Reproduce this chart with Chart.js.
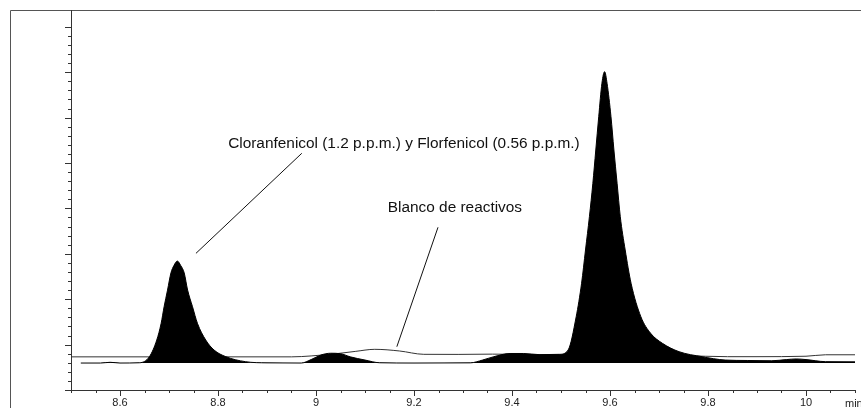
<!DOCTYPE html>
<html>
<head>
<meta charset="utf-8">
<script src="https://cdn.jsdelivr.net/npm/chart.js@4.4.1/dist/chart.umd.min.js"></script>
<style>
  html, body { margin: 0; padding: 0; background: #fff; }
  canvas { display: block; }
</style>
</head>
<body>
<canvas id="grafico" width="861" height="408"></canvas>
<script>
// muestra (cromatograma relleno en negro)
const tiemposMuestra = [8.52, 8.56, 8.58, 8.60, 8.64, 8.66, 8.675, 8.684, 8.69, 8.697, 8.704, 8.71, 8.717, 8.724, 8.731, 8.738, 8.748, 8.758, 8.775, 8.792, 8.816, 8.856, 8.90,
  8.97, 8.99, 9.01, 9.03, 9.05, 9.07, 9.10, 9.13, 9.20, 9.315, 9.34, 9.363, 9.396, 9.424, 9.457, 9.497, 9.5146, 9.531, 9.542, 9.550, 9.558, 9.565, 9.571, 9.577, 9.5835,
  9.589, 9.594, 9.602, 9.608, 9.6145, 9.621, 9.631, 9.643, 9.663, 9.683, 9.707, 9.741, 9.788, 9.835, 9.88, 9.93, 9.96, 9.98, 10.0, 10.04, 10.1];
const senalMuestra = [2.97, 2.97, 3.05, 2.97, 3.0, 3.67, 5.5, 7.35, 9.17, 11.0, 12.9, 13.7, 14.2, 13.7, 12.9, 11.0, 9.17, 7.35, 5.5, 4.4, 3.67, 3.12, 2.99,
  2.97, 3.35, 3.85, 4.05, 4.0, 3.65, 3.3, 3.0, 2.97, 2.99, 3.3, 3.67, 4.02, 4.02, 3.89, 3.93, 4.41, 8.07, 11.75, 15.42, 19.09, 22.76, 26.43, 30.1, 33.78,
  35.06, 33.78, 30.1, 26.43, 22.76, 19.09, 15.42, 11.75, 8.07, 6.24, 5.14, 4.22, 3.67, 3.3, 3.25, 3.22, 3.35, 3.42, 3.35, 3.12, 3.1];
const lineaBaseMuestra = 2.97;

// blanco de reactivos (solo linea)
const tiemposBlanco = [8.5, 8.95, 8.99, 9.03, 9.08, 9.12, 9.17, 9.22, 9.29, 9.36, 9.45, 9.55, 9.75, 9.84, 9.9, 10.0, 10.04, 10.1];
const senalBlanco = [3.65, 3.65, 3.75, 3.93, 4.25, 4.48, 4.3, 3.93, 3.92, 3.95, 3.9, 3.85, 3.78, 3.67, 3.67, 3.72, 3.88, 3.88];

// etiquetas del eje x
const valoresEjeX = [8.6, 8.8, 9, 9.2, 9.4, 9.6, 9.8, 10];
const etiquetasEjeX = ['8.6', '8.8', '9', '9.2', '9.4', '9.6', '9.8', '10'];

// textos y lineas de las anotaciones (en unidades de los ejes)
const textosNota = ['Cloranfenicol (1.2 p.p.m.) y Florfenicol (0.56 p.p.m.)', 'Blanco de reactivos'];
const textoNotaX = [8.8207, 9.1464];
const textoNotaY = [26.62, 19.64];
const lineaNotaDesde = [[8.755, 15.05], [9.249, 17.92]];
const lineaNotaHasta = [[8.971, 26.07], [9.165, 4.77]];

const fuente = "'Liberation Sans', Arial, sans-serif";

const puntos = (t, s) => t.map((x, i) => ({ x: x, y: s[i] }));

const dibujos = {
  id: 'dibujos',
  beforeDraw(chart) {
    const ctx = chart.ctx;
    ctx.save();
    ctx.strokeStyle = '#555';
    ctx.lineWidth = 1;
    ctx.beginPath();
    ctx.moveTo(10.5, 408);
    ctx.lineTo(10.5, 10.5);
    ctx.lineTo(861, 10.5);
    ctx.stroke();
    ctx.restore();
  },
  afterDraw(chart) {
    const ctx = chart.ctx;
    const x = chart.scales.x;
    const y = chart.scales.y;
    ctx.save();
    ctx.strokeStyle = '#333';
    ctx.lineWidth = 1;
    ctx.beginPath();
    // marcas del eje y
    y.ticks.forEach(t => {
      const v = Math.round(t.value);
      if (Math.abs(t.value - v) > 1e-6) return;
      const largo = v % 5 === 0 ? 6 : 3;
      const py = Math.round(y.getPixelForValue(v)) + 0.5;
      ctx.moveTo(x.left - largo, py);
      ctx.lineTo(x.left, py);
    });
    // marcas del eje x
    x.ticks.forEach(t => {
      const k = Math.round(t.value * 20);
      if (Math.abs(t.value * 20 - k) > 1e-6) return;
      const largo = k % 4 === 0 ? 6 : 3;
      const px = Math.round(x.getPixelForValue(t.value)) + 0.5;
      ctx.moveTo(px, y.bottom);
      ctx.lineTo(px, y.bottom + largo);
    });
    ctx.stroke();

    // lineas de las notas
    ctx.strokeStyle = '#111';
    ctx.beginPath();
    lineaNotaDesde.forEach((p, i) => {
      const q = lineaNotaHasta[i];
      ctx.moveTo(x.getPixelForValue(p[0]), y.getPixelForValue(p[1]));
      ctx.lineTo(x.getPixelForValue(q[0]), y.getPixelForValue(q[1]));
    });
    ctx.stroke();

    // textos de las notas
    ctx.fillStyle = '#111';
    ctx.font = '15.4px ' + fuente;
    ctx.textAlign = 'left';
    ctx.textBaseline = 'alphabetic';
    textosNota.forEach((txt, i) => {
      ctx.fillText(txt, x.getPixelForValue(textoNotaX[i]), y.getPixelForValue(textoNotaY[i]));
    });

    // unidad del eje x
    ctx.font = '11px ' + fuente;
    ctx.fillStyle = '#222';
    ctx.fillText('min', 845, 407);
    ctx.restore();
  }
};

new Chart(document.getElementById('grafico'), {
  type: 'line',
  data: {
    datasets: [
      {
        label: 'Muestra',
        data: puntos(tiemposMuestra, senalMuestra),
        borderColor: '#000',
        backgroundColor: '#000',
        borderWidth: 1,
        pointRadius: 0,
        cubicInterpolationMode: 'monotone',
        fill: { value: lineaBaseMuestra },
        order: 0
      },
      {
        label: 'Blanco de reactivos',
        data: puntos(tiemposBlanco, senalBlanco),
        borderColor: '#333',
        borderWidth: 1,
        pointRadius: 0,
        cubicInterpolationMode: 'monotone',
        fill: false,
        order: 1
      }
    ]
  },
  options: {
    responsive: false,
    animation: false,
    events: [],
    layout: { padding: { top: 10, left: 0, right: 0, bottom: 0 } },
    plugins: { legend: { display: false }, tooltip: { enabled: false } },
    scales: {
      x: {
        type: 'linear',
        min: 8.5,
        max: 10.1,
        afterFit: s => { s.height = 18; },
        grid: { display: true, drawOnChartArea: false, drawTicks: false },
        border: { display: true, color: '#333', width: 1 },
        ticks: {
          stepSize: 0.05,
          autoSkip: false,
          maxRotation: 0,
          padding: 6,
          color: '#222',
          font: { family: fuente, size: 11 },
          callback: v => {
            const i = valoresEjeX.findIndex(t => Math.abs(t - v) < 1e-6);
            return i >= 0 ? etiquetasEjeX[i] : '';
          }
        }
      },
      y: {
        min: 0,
        max: 41.85,
        afterFit: s => { s.width = 71; },
        grid: { display: true, drawOnChartArea: false, drawTicks: false },
        border: { display: true, color: '#333', width: 1 },
        ticks: { stepSize: 1, display: false }
      }
    }
  },
  plugins: [dibujos]
});
</script>
</body>
</html>
